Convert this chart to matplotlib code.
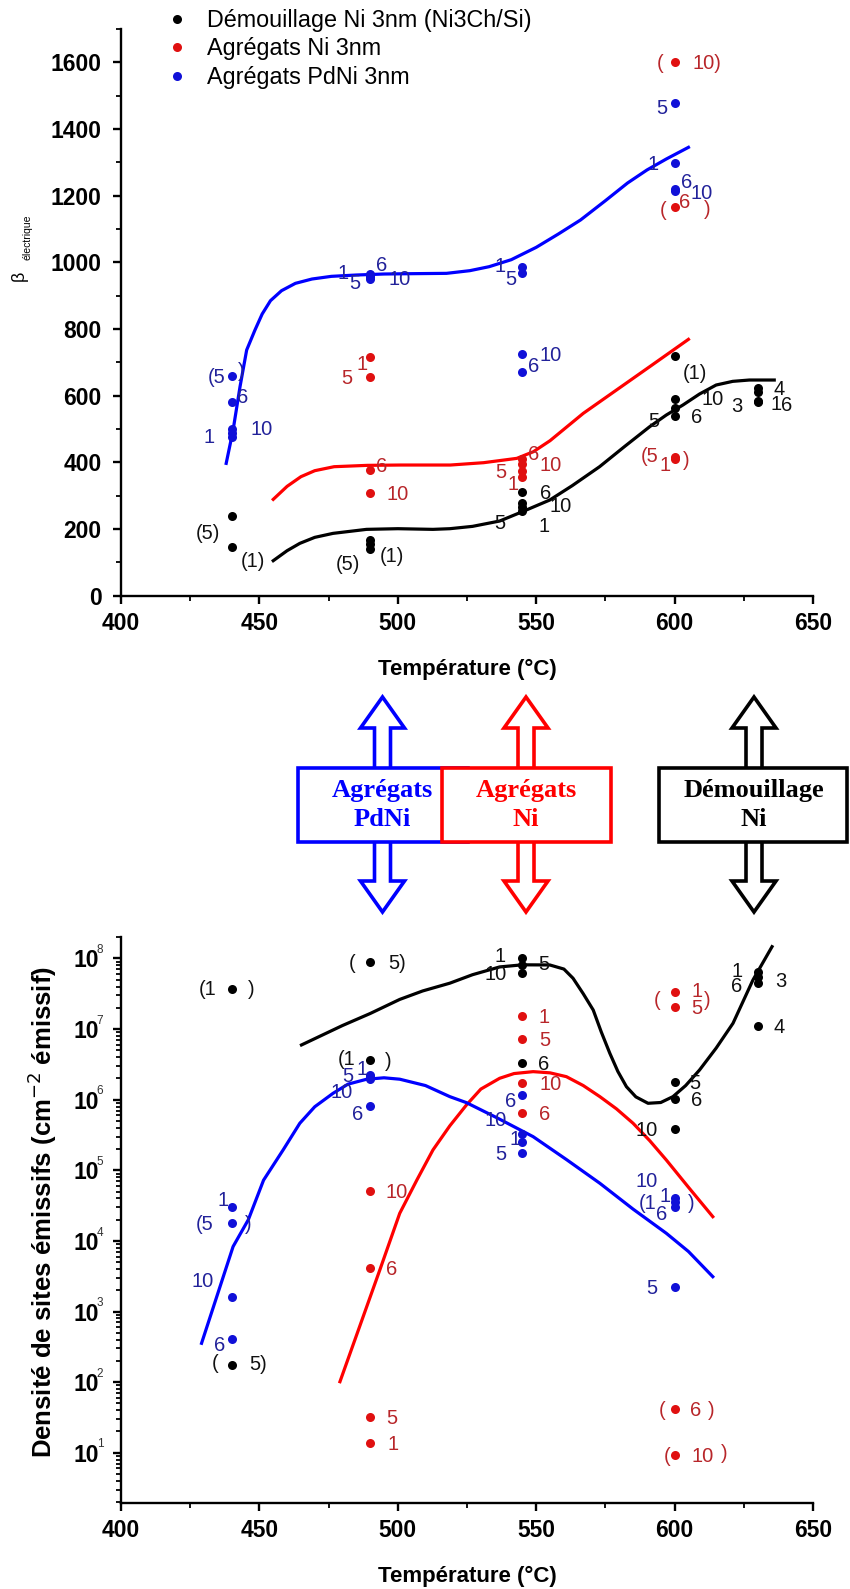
import matplotlib
matplotlib.use('Agg')
import matplotlib.pyplot as plt
from matplotlib.patches import Polygon, Rectangle
from matplotlib.ticker import MultipleLocator, LogLocator, FixedLocator, NullFormatter

plt.rcParams['font.family'] = ['Liberation Sans', 'DejaVu Sans']

W, H = 850, 1589

# ---------------- data: beta electrique (top panel) ----------------
top_black_t = [440, 440, 490, 490, 490, 545, 545, 545, 545, 600, 600, 600, 600, 630, 630, 630, 630]
top_black_v = [239, 145, 168, 155, 140, 310, 277, 265, 255, 719, 590, 562, 540, 622, 612, 585, 580]
top_red_t = [490, 490, 490, 490, 545, 545, 545, 545, 600, 600, 600, 600]
top_red_v = [717, 657, 377, 307, 410, 395, 375, 355, 1602, 1167, 417, 410]
top_blue_t = [440, 440, 440, 440, 440, 490, 490, 490, 490, 545, 545, 545, 545, 600, 600, 600, 600]
top_blue_v = [659, 582, 500, 487, 476, 966, 962, 955, 950, 987, 967, 725, 672, 1477, 1297, 1220, 1214]

# fitted curves
fit_black_t = [455, 460, 464.6, 470, 476.6, 488.7, 500, 512.7, 518.8, 527, 536.8, 545, 554.9, 563,
               572.9, 582, 591, 597, 603, 609, 615, 621, 627, 636]
fit_black_v = [105, 135, 157, 175, 187, 199, 201, 199, 201, 208, 224, 252, 287, 330,
               387, 448, 507, 542, 572, 605, 632, 643, 647, 647]
fit_red_t = [455, 460, 465, 470, 477, 489, 501, 510, 519, 531, 543, 549, 555, 567, 579, 591, 605]
fit_red_v = [289, 328, 357, 375, 387, 391, 392, 392, 392, 399, 412, 432, 465, 547, 617, 687, 769]
fit_blue_t = [438, 440.5, 443, 445.4, 448.4, 451, 454, 458, 463, 469, 476, 485, 495, 505, 517.6, 526,
              533, 541, 550, 558, 566, 575, 583, 590, 597, 605]
fit_blue_v = [397, 497, 627, 737, 797, 845, 885, 915, 937, 950, 958, 962, 965, 966, 967, 975,
              987, 1008, 1045, 1085, 1127, 1185, 1238, 1277, 1310, 1345]

# ---------------- data: emissive site density (bottom panel) ----------------
bot_black_t = [440, 440, 490, 490, 545, 545, 545, 545, 600, 600, 600, 630, 630, 630, 630]
bot_black_v = [3.66e7, 175, 9.0e7, 3.65e6, 1.0e8, 8.1e7, 6.2e7, 3.34e6, 1.76e6, 1.02e6, 3.85e5,
               6.5e7, 5.5e7, 4.5e7, 1.1e7]
bot_red_t = [490, 490, 490, 490, 545, 545, 545, 545, 600, 600, 600, 600]
bot_red_v = [5.1e4, 4.1e3, 31.7, 13.6, 1.53e7, 7.2e6, 1.71e6, 6.5e5, 3.39e7, 2.04e7, 41, 9.3]
bot_blue_t = [440, 440, 440, 440, 490, 490, 490, 490, 545, 545, 545, 545, 600, 600, 600, 600]
bot_blue_v = [3.05e4, 1.77e4, 1.62e3, 404, 2.24e6, 2.1e6, 1.95e6, 8.1e5, 1.17e6, 3.3e5, 2.5e5,
              1.75e5, 4.0e4, 3.5e4, 3.0e4, 2.2e3]

# fitted curves (log10 of density)
fitd_black_t = [465.2, 480, 490, 500.7, 509, 518.8, 527, 536.8, 545, 554.9, 560, 563.3, 567, 570.6,
                573.5, 576.6, 579.5, 582.6, 586, 590.4, 595, 599.4, 604, 609, 615, 621.1, 628.3, 635.2]
fitd_black_log = [6.775, 7.05, 7.22, 7.42, 7.54, 7.65, 7.77, 7.88, 7.91, 7.908, 7.85, 7.72, 7.5, 7.27,
                  6.96, 6.657, 6.4, 6.184, 6.04, 5.949, 5.96, 6.043, 6.2, 6.42, 6.73, 7.082, 7.695, 8.167]
fitd_red_t = [479.1, 493.5, 500.7, 506.9, 512.7, 518.8, 524.8, 530, 536.8, 542, 548.9, 555, 560.9,
              567, 573, 579, 585, 591, 597, 605, 613.8]
fitd_red_log = [2.006, 3.588, 4.391, 4.863, 5.288, 5.63, 5.925, 6.15, 6.303, 6.37, 6.397, 6.38, 6.326,
                6.2, 6.043, 5.87, 5.666, 5.42, 5.146, 4.76, 4.343]
fitd_blue_t = [429.1, 440.5, 446, 451.5, 458.6, 464.6, 470, 476.6, 482, 488.7, 495, 500.7, 510,
               518.8, 524.8, 536, 548.9, 561, 573, 585, 597, 605, 613.8]
fitd_blue_log = [2.55, 3.92, 4.3, 4.86, 5.29, 5.666, 5.9, 6.09, 6.22, 6.289, 6.31, 6.29, 6.2,
                 6.043, 5.958, 5.74, 5.476, 5.15, 4.816, 4.45, 4.108, 3.85, 3.493]

series_names = ['Démouillage Ni 3nm (Ni3Ch/Si)', 'Agrégats Ni 3nm', 'Agrégats PdNi 3nm']
box_texts = ['Agrégats\nPdNi', 'Agrégats\nNi', 'Démouillage\nNi']

# sample labels next to points: (point index, text, dx px, dy px downwards)
top_black_notes = [(0, '(5)', -24, 16), (1, '(1)', 21, 13), (4, '(5)', -22, 14), (4, '(1)', 22, 6),
                   (5, '6', 23, 0), (6, '10', 38, 2), (7, '5', -23, 15), (8, '1', 22, 14),
                   (9, '(1)', 20, 16), (10, '10', 38, -1), (11, '5', -21, 12), (12, '6', 22, 0),
                   (13, '4', 21, 0), (14, '3', -21, 13), (15, '1', 18, 2), (16, '6', 29, 2)]
top_red_notes = [(0, '1', -8, 6), (1, '5', -23, 0), (2, '6', 12, -5), (3, '10', 28, 0),
                 (4, '6', 11, -6), (5, '10', 28, 0), (6, '5', -22, 0), (7, '1', -9, 6),
                 (8, '(', -15, 0), (8, '10)', 32, 0), (9, '(', -12, 2), (9, '6', 10, -6), (9, ')', 33, 1),
                 (10, '(5', -25, -2), (11, '1', -10, 5), (10, ')', 12, 2)]
top_blue_notes = [(0, '(5', -15, 0), (0, ')', 10, -6), (1, '6', 11, -6), (2, '10', 30, -1),
                  (4, '1', -23, -1), (5, '6', 12, -10), (6, '1', -27, -3), (8, '5', -15, 3),
                  (7, '10', 30, 1), (9, '1', -22, -2), (10, '5', -12, 5), (11, '10', 28, 0),
                  (12, '6', 11, -7), (13, '5', -13, 4), (14, '1', -22, 0), (15, '6', 12, -8),
                  (16, '10', 27, 1)]
bot_black_notes = [(0, '(1', -24, -1), (0, ')', 20, -1), (1, '(', -17, -3), (1, '5)', 26, -2),
                   (2, '(', -18, 0), (2, '5)', 27, 0), (3, '(1', -23, -2), (3, ')', 18, 0),
                   (4, '1', -22, -3), (5, '5', 21, -2), (6, '10', -27, 0), (7, '6', 21, 0),
                   (8, '5', 20, 0), (9, '6', 22, 0), (10, '10', -28, 0), (11, '1', -21, -2),
                   (12, '3', 23, 3), (13, '6', -21, 2), (14, '4', 21, 0)]
bot_red_notes = [(0, '10', 27, 0), (1, '6', 22, 0), (2, '5', 22, 0), (3, '1', 23, 0),
                 (4, '1', 22, 0), (5, '5', 22, 0), (6, '10', 28, 0), (7, '6', 22, 0),
                 (8, '(', -18, 7), (8, '1', 22, -2), (8, ')', 33, 7), (9, '5', 22, 0),
                 (10, '(', -13, 0), (10, '6', 21, 0), (10, ')', 37, 0),
                 (11, '(', -8, 0), (11, '10', 28, 0), (11, ')', 50, -3)]
bot_blue_notes = [(0, '1', -9, -8), (1, '(5', -27, 0), (1, ')', 17, 0), (2, '10', -29, -17),
                  (3, '6', -12, 5), (4, '5', -22, 0), (5, '1', -8, -9), (6, '10', -28, 12),
                  (7, '6', -12, 7), (8, '6', -12, 5), (9, '10', -27, -15), (10, '1', -7, -4),
                  (11, '5', -22, 0), (12, '10', -28, -18), (13, '(1', -27, 0), (13, '1', -10, -7),
                  (14, '6', -13, 6), (13, ')', 17, 0), (15, '5', -23, 0)]

DOT = {'k': '#000000', 'r': '#E01010', 'b': '#1010D8'}
TXT = {'k': '#111111', 'r': '#B8262A', 'b': '#22229A'}
LINE = {'k': '#000000', 'r': '#FF0000', 'b': '#0000FF'}


def fx(x):
    return x / W


def fy(y):
    return 1 - y / H


def style_axes(ax):
    for side in ('top', 'right'):
        ax.spines[side].set_visible(False)
    for side in ('left', 'bottom'):
        ax.spines[side].set_linewidth(1.7)
    ax.tick_params(which='major', direction='out', length=6, width=1.7, labelsize=16.5)
    ax.tick_params(which='minor', direction='out', length=3.5, width=1.3)
    ax.tick_params(axis='x', pad=5.5)
    ax.set_xlim(400, 650)
    ax.xaxis.set_major_locator(MultipleLocator(50))
    ax.xaxis.set_minor_locator(MultipleLocator(25))


def label_points(ax, temps, vals, notes, color):
    for i, text, dx, dy in notes:
        ax.annotate(text, (temps[i], vals[i]), xytext=(dx * 0.72, -(dy + 1.5) * 0.72),
                    textcoords='offset points', ha='center', va='center',
                    fontsize=14.5, color=color)


fig = plt.figure(figsize=(W / 100, H / 100), dpi=100)
ax1 = fig.add_axes([fx(121), fy(595.7), fx(813) - fx(121), (595.7 - 29) / H])
ax2 = fig.add_axes([fx(121), fy(1502.7), fx(813) - fx(121), (1502.7 - 936.9) / H])

# ---------------- top panel ----------------
style_axes(ax1)
ax1.set_ylim(0, 1700)
ax1.yaxis.set_major_locator(FixedLocator(range(0, 1601, 200)))
ax1.yaxis.set_minor_locator(MultipleLocator(100))
ax1.tick_params(axis='y', pad=8)

ax1.plot(fit_black_t, fit_black_v, color=LINE['k'], lw=2.3)
ax1.plot(fit_red_t, fit_red_v, color=LINE['r'], lw=2.3)
ax1.plot(fit_blue_t, fit_blue_v, color=LINE['b'], lw=2.3)
h1, = ax1.plot(top_black_t, top_black_v, 'o', ms=6.5, color=DOT['k'], mec='none', label=series_names[0])
h2, = ax1.plot(top_red_t, top_red_v, 'o', ms=6.5, color=DOT['r'], mec='none', label=series_names[1])
h3, = ax1.plot(top_blue_t, top_blue_v, 'o', ms=6.5, color=DOT['b'], mec='none', label=series_names[2])
label_points(ax1, top_black_t, top_black_v, top_black_notes, TXT['k'])
label_points(ax1, top_red_t, top_red_v, top_red_notes, TXT['r'])
label_points(ax1, top_blue_t, top_blue_v, top_blue_notes, TXT['b'])

for lab in ax1.get_xticklabels() + ax1.get_yticklabels():
    lab.set_fontweight('bold')
ax1.set_xlabel('Température (°C)', fontsize=16, fontweight='bold', va='center')
ax1.xaxis.set_label_coords(0.5, (595.7 - 669) / 566.7)

fig.text(fx(19), fy(276), 'β', rotation=90, fontsize=13, ha='center', va='center')
fig.text(fx(27.5), fy(237), 'électrique', rotation=90, fontsize=7.5, ha='center', va='center')

ax1.legend(handles=[h1, h2, h3], loc='upper left', bbox_to_anchor=(fx(165), fy(9)),
           bbox_transform=fig.transFigure, frameon=False, fontsize=16.8, handlelength=1.0,
           handletextpad=0.8, labelspacing=0.23, borderpad=0, borderaxespad=0)

# ---------------- bottom panel ----------------
style_axes(ax2)
ax2.set_yscale('log')
ax2.set_ylim(1.96, 2.02e8)
ax2.yaxis.set_major_locator(FixedLocator([10.0 ** k for k in range(1, 9)]))
ax2.yaxis.set_minor_locator(LogLocator(base=10, subs=range(2, 10), numticks=20))
ax2.yaxis.set_minor_formatter(NullFormatter())
ax2.set_yticklabels(['10'] * 8)
ax2.tick_params(axis='y', pad=10)
for k in range(1, 9):
    ax2.annotate(str(k), (0, 10.0 ** k), xycoords=ax2.get_yaxis_transform(),
                 xytext=(-15, 6), textcoords='offset points', fontsize=8.5,
                 color='#333333', ha='center', va='center')

ax2.plot(fitd_black_t, [10 ** v for v in fitd_black_log], color=LINE['k'], lw=2.3)
ax2.plot(fitd_red_t, [10 ** v for v in fitd_red_log], color=LINE['r'], lw=2.3)
ax2.plot(fitd_blue_t, [10 ** v for v in fitd_blue_log], color=LINE['b'], lw=2.3)
ax2.plot(bot_black_t, bot_black_v, 'o', ms=6.5, color=DOT['k'], mec='none')
ax2.plot(bot_red_t, bot_red_v, 'o', ms=6.5, color=DOT['r'], mec='none')
ax2.plot(bot_blue_t, bot_blue_v, 'o', ms=6.5, color=DOT['b'], mec='none')
label_points(ax2, bot_black_t, bot_black_v, bot_black_notes, TXT['k'])
label_points(ax2, bot_red_t, bot_red_v, bot_red_notes, TXT['r'])
label_points(ax2, bot_blue_t, bot_blue_v, bot_blue_notes, TXT['b'])

for lab in ax2.get_xticklabels() + ax2.get_yticklabels():
    lab.set_fontweight('bold')
ax2.set_xlabel('Température (°C)', fontsize=16, fontweight='bold', va='center')
ax2.xaxis.set_label_coords(0.5, (1502.7 - 1576) / 565.8)
ax2.set_ylabel('Densité de sites émissifs (cm$^{-2}$ émissif)', fontsize=18.5, fontweight='bold',
               va='center')
ax2.yaxis.set_label_coords((42 - 121) / 692, (1502.7 - 1212) / 565.8)

# ---------------- middle: double arrows and boxes ----------------
arrow_x = [382.5, 526, 754]
box_px = [(297.5, 468), (442, 610.5), (658.5, 847)]
colors = [LINE['b'], LINE['r'], LINE['k']]
tip_top, base_top, base_bot, tip_bot = 697, 728, 881, 912
box_top, box_bot = 768, 842
head_hw, shaft_hw = 22, 8
for cx, col in zip(arrow_x, colors):
    pts = [(cx, tip_top), (cx + head_hw, base_top), (cx + shaft_hw, base_top), (cx + shaft_hw, base_bot),
           (cx + head_hw, base_bot), (cx, tip_bot), (cx - head_hw, base_bot), (cx - shaft_hw, base_bot),
           (cx - shaft_hw, base_top), (cx - head_hw, base_top)]
    fig.patches.append(Polygon([(fx(x), fy(y)) for x, y in pts], closed=True, fill=True,
                               facecolor='white', edgecolor=col, lw=2.6,
                               transform=fig.transFigure, figure=fig, joinstyle='miter'))
for (bl, br), col, cx, txt in zip(box_px, colors, arrow_x, box_texts):
    fig.patches.append(Rectangle((fx(bl), fy(box_bot)), fx(br) - fx(bl), (box_bot - box_top) / H,
                                 facecolor='white', edgecolor=col, lw=2.6,
                                 transform=fig.transFigure, figure=fig))
    fig.text(fx(cx), fy((box_top + box_bot) / 2), txt, color=col, fontsize=19, fontweight='bold',
             family='Liberation Serif', ha='center', va='center', linespacing=1.35)

fig.savefig('out.png', dpi=100)
